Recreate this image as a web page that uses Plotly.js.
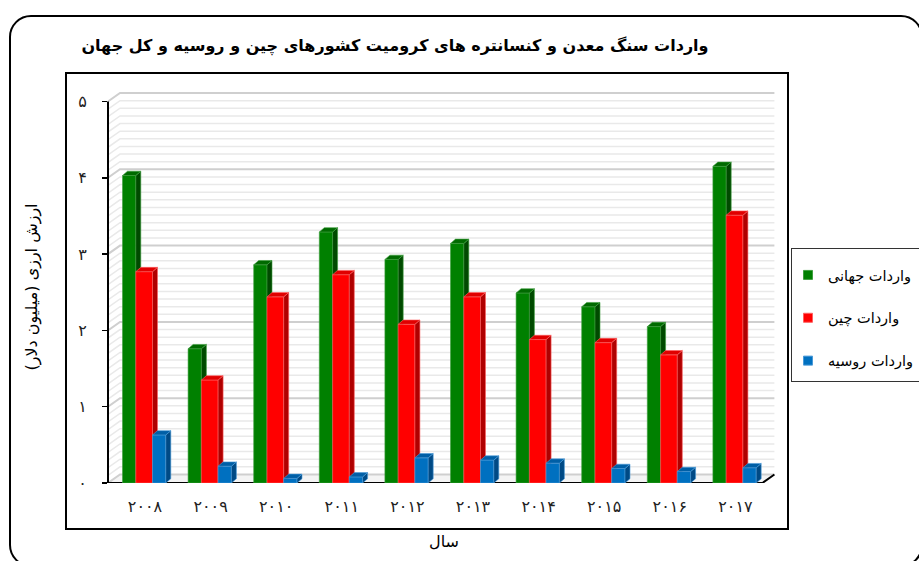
<!DOCTYPE html>
<html>
<head>
<meta charset="utf-8">
<script src="https://cdn.plot.ly/plotly-3.0.1.min.js"></script>
<style>
  html, body { margin: 0; padding: 0; background: #ffffff; overflow: hidden; }
  #wrap { position: relative; width: 919px; height: 561px; overflow: hidden; background: #ffffff; }
  .frame { position: absolute; box-sizing: border-box; pointer-events: none; }
  #outer { left: 9px; top: 15px; width: 914px; height: 552px; border: 2px solid #000; border-radius: 22px; }
  #plotbox { left: 65px; top: 72px; width: 724px; height: 458px; border: 2px solid #000; }
  #legbox { left: 791px; top: 248px; width: 140px; height: 134px; border: 1.5px solid #333; background: #fff; }
  #chart { position: absolute; left: 0; top: 0; width: 960px; height: 561px; }
</style>
</head>
<body>
<div id="wrap">
  <div class="frame" id="outer"></div>
  <div class="frame" id="plotbox"></div>
  <div class="frame" id="legbox"></div>
  <div id="chart"></div>
</div>
<script>
// ---------------- DATA ----------------
const years = ['۲۰۰۸', '۲۰۰۹', '۲۰۱۰', '۲۰۱۱', '۲۰۱۲', '۲۰۱۳', '۲۰۱۴', '۲۰۱۵', '۲۰۱۶', '۲۰۱۷'];
const worldImports  = [4.03, 1.76, 2.86, 3.29, 2.93, 3.14, 2.49, 2.31, 2.05, 4.15];
const chinaImports  = [2.77, 1.35, 2.44, 2.73, 2.08, 2.44, 1.88, 1.84, 1.68, 3.51];
const russiaImports = [0.63, 0.22, 0.06, 0.08, 0.33, 0.30, 0.26, 0.19, 0.15, 0.20];
const seriesNames = ['واردات جهانی', 'واردات چین', 'واردات روسیه'];
const yTickVals = [0, 1, 2, 3, 4, 5];
const yTickText = ['۰', '۱', '۲', '۳', '۴', '۵'];
const chartTitle = 'واردات سنگ معدن و کنسانتره های کرومیت کشورهای چین و روسیه و کل جهان';
const yTitle = 'ارزش ارزی (میلیون دلار)';
const xTitle = 'سال';

// ---------------- STYLE / GEOMETRY ----------------
// the Plotly paper is a little wider than the visible 919px window so the legend is never clamped
const W = 960, H = 561;
const M = {l: 108, r: W - 108 - 672, t: 91, b: 78, autoexpand: false};
const plotW = W - M.l - M.r;
const plotH = H - M.t - M.b;
const pxPerX = 65.6, pxPerY = 76.3;
const xMin = -37 / pxPerX;
const xMax = xMin + plotW / pxPerX;
const yMax = plotH / pxPerY;
const dxu = p => p / pxPerX;
const dyu = p => p / pxPerY;

const colors = {
  front: ['#008000', '#ff0000', '#0070c0'],
  top:   ['#006a00', '#e00000', '#005fa6'],
  side:  ['#004a00', '#b00000', '#004a85'],
  edge:  ['#3fa03f', '#ff6060', '#4a9ad8']
};
const barLeftPx = [-22.5, -9.2, 7.5];
const barWidthPx = [13.3, 16.7, 13.3];
const barDepthX = 5, barDepthY = 4.3;
const wallDX = 12, wallDY = 8.5;
const floorRight = (years.length - 1) + dxu(27);

const traces = [];

// floor
const fx = [xMin, floorRight, floorRight + dxu(wallDX), xMin + dxu(wallDX), xMin];
const fy = [0, 0, dyu(wallDY), dyu(wallDY), 0];
traces.push({type: 'scatter', mode: 'lines', x: fx, y: fy, fill: 'toself',
  fillcolor: '#f4f4f4', line: {width: 0}, hoverinfo: 'skip', showlegend: false});

// wall gridlines (minor every 0.1, major at integers)
function gridTrace(major) {
  const gx = [], gy = [];
  const top = Math.max(...yTickVals);
  for (let k = 0; k <= top * 10; k++) {
    const isMajor = (k % 10 === 0);
    if (isMajor !== major) continue;
    const v = k / 10;
    gx.push(xMin, xMin + dxu(wallDX), floorRight + dxu(wallDX), null);
    gy.push(v, v + dyu(wallDY), v + dyu(wallDY), null);
  }
  return {type: 'scatter', mode: 'lines', x: gx, y: gy, hoverinfo: 'skip', showlegend: false,
    line: {color: major ? '#cfcfcf' : '#e9e9e9', width: major ? 2 : 1.5}};
}
traces.push(gridTrace(false));
traces.push(gridTrace(true));

// floor front + right edge
traces.push({type: 'scatter', mode: 'lines',
  x: [xMin, floorRight, floorRight + dxu(wallDX)], y: [0, 0, dyu(wallDY)],
  line: {color: '#000', width: 2}, hoverinfo: 'skip', showlegend: false});

// bars (3D look via front/side/top faces)
const allSeries = [worldImports, chinaImports, russiaImports];
allSeries.forEach((vals, s) => {
  const front = {x: [], y: []}, side = {x: [], y: []}, topf = {x: [], y: []};
  vals.forEach((v, i) => {
    const x0 = i + dxu(barLeftPx[s]);
    const x1 = x0 + dxu(barWidthPx[s]);
    const ddx = dxu(barDepthX), ddy = dyu(barDepthY);
    front.x.push(x0, x0, x1, x1, x0, null); front.y.push(0, v, v, 0, 0, null);
    side.x.push(x1, x1, x1 + ddx, x1 + ddx, x1, null); side.y.push(0, v, v + ddy, ddy, 0, null);
    topf.x.push(x0, x0 + ddx, x1 + ddx, x1, x0, null); topf.y.push(v, v + ddy, v + ddy, v, v, null);
  });
  [[front, colors.front[s]], [side, colors.side[s]], [topf, colors.top[s]]].forEach(([p, c]) => {
    traces.push({type: 'scatter', mode: 'lines', x: p.x, y: p.y, fill: 'toself', fillcolor: c,
      line: {color: colors.edge[s], width: 0.6}, hoverinfo: 'skip', showlegend: false});
  });
});

// legend entries
seriesNames.forEach((name, s) => {
  traces.push({type: 'scatter', mode: 'markers', x: [null], y: [null], name: name,
    legendgroup: 'g' + s, showlegend: true,
    marker: {symbol: 'square', size: 9, color: colors.front[s], line: {color: colors.edge[s], width: 1}}});
});

const layout = {
  width: W, height: H,
  margin: M,
  paper_bgcolor: 'rgba(0,0,0,0)',
  plot_bgcolor: 'rgba(0,0,0,0)',
  font: {family: 'DejaVu Sans', color: '#000'},
  title: {text: chartTitle, xref: 'container', yref: 'container', x: 395 / W, xanchor: 'center',
    y: 1 - 45 / H, yanchor: 'middle', font: {size: 16, weight: 'bold', color: '#000'}},
  showlegend: true,
  legend: {x: (788 - M.l) / plotW, xanchor: 'left', y: (M.t + plotH - 259) / plotH, yanchor: 'top',
    bgcolor: 'rgba(0,0,0,0)', borderwidth: 0, traceorder: 'grouped', tracegroupgap: 21,
    itemwidth: 30, font: {size: 14.5, color: '#000'}},
  xaxis: {range: [xMin, xMax], tickmode: 'array', tickvals: years.map((_, i) => i), ticktext: years,
    showgrid: false, zeroline: false, showline: false, ticks: '', ticklabelstandoff: 12,
    tickfont: {size: 16, color: '#222'}, fixedrange: true,
    title: {text: xTitle, standoff: 20, font: {size: 16, color: '#000'}}},
  yaxis: {range: [0, yMax], tickmode: 'array', tickvals: yTickVals, ticktext: yTickText,
    showgrid: false, zeroline: false, showline: false, ticks: 'outside', ticklen: 5, tickwidth: 1.5,
    tickcolor: '#000', ticklabelstandoff: 12, tickfont: {size: 16, color: '#222'}, fixedrange: true,
    title: {text: yTitle, standoff: 36, font: {size: 16, color: '#000'}}},
  shapes: [
    {type: 'line', xref: 'paper', yref: 'y', x0: 0, x1: 0, y0: 0, y1: Math.max(...yTickVals),
      line: {color: '#000', width: 2}}
  ]
};

Plotly.newPlot('chart', traces, layout, {staticPlot: true, displayModeBar: false});
</script>
</body>
</html>
